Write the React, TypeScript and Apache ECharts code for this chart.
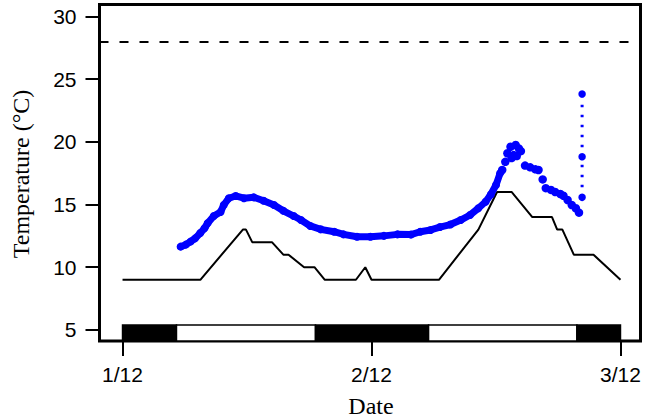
import React, { useEffect, useRef } from "react";
import * as echarts from "echarts";

// x values are hours since 1/12 00:00
const xTickValues = [0, 24, 48];
const xTickLabels = ["1/12", "2/12", "3/12"];
const yTickValues = [5, 10, 15, 20, 25, 30];

const limitValue = 28;

// setpoint (black line): [hour, °C]
const setpoint: [number, number][] = [
  [0, 9], [7.5, 9], [11.6, 13], [11.9, 13], [12.5, 12], [14.4, 12], [15.5, 11], [16.0, 11],
  [17.5, 10], [18.5, 10], [19.5, 9], [22.5, 9], [23.4, 10], [24.0, 9], [30.5, 9], [34.3, 13],
  [36.1, 16], [37.5, 16], [39.5, 14], [41.4, 14], [41.9, 13], [42.4, 13], [43.5, 11],
  [45.4, 11], [48, 9],
];

// measured temperature, smooth part
const measuredSmooth: [number, number][] = [
  [5.6, 11.64], [6.1, 11.8], [6.55, 12.04], [7.0, 12.3], [7.5, 12.73], [7.9, 13.1], [8.2, 13.5],
  [8.8, 14.08], [9.45, 14.4], [9.76, 14.96], [10.25, 15.5], [10.9, 15.68], [11.7, 15.5],
  [12.65, 15.57], [13.6, 15.3], [14.6, 14.96], [15.5, 14.5], [16.5, 14.08], [17.2, 13.76],
  [18.1, 13.29], [19.1, 13.02], [20.4, 12.83], [21.3, 12.62], [22.6, 12.43], [23.9, 12.43],
  [25.2, 12.5], [26.5, 12.62], [27.8, 12.6], [28.7, 12.83], [29.7, 12.97], [30.6, 13.2],
  [31.6, 13.4], [32.6, 13.76], [33.5, 14.16], [34.3, 14.7], [35.0, 15.22], [35.5, 15.8],
  [36.0, 16.55], [36.4, 17.5],
];

// measured temperature, peak and decline (separate dots)
const measuredPeak: [number, number][] = [
  [36.6, 17.75], [36.9, 18.4], [37.1, 19.08], [37.4, 19.6], [37.9, 19.74], [38.2, 19.47],
  [38.4, 19.25], [37.7, 18.94], [37.5, 18.7], [38.0, 18.86], [38.8, 18.1], [39.3, 17.96],
  [39.8, 17.8], [40.1, 17.75], [40.5, 17.0], [40.8, 16.3], [41.3, 16.16], [41.7, 16.0],
  [42.2, 15.84], [42.5, 15.7], [42.9, 15.36], [43.3, 14.96], [43.7, 14.7], [44.0, 14.35],
];

// final readings joined by a dotted line
const measuredEnd: [number, number][] = [[44.3, 15.57], [44.3, 18.8], [44.3, 23.8]];

// day/night bar: [start hour, end hour, dark(1)/light(0)]
const dayNight: [number, number, number][] = [
  [0, 5.2, 1], [5.2, 18.6, 0], [18.6, 29.5, 1], [29.5, 43.8, 0], [43.8, 48, 1],
];

const X_MIN = -2.22;
const X_MAX = 49.93;
const Y_MIN = 4.12;
const Y_MAX = 30.94;
const BAR_TOP = 5.4;

const BLUE = "#0000ff";

export default function App() {
  const ref = useRef<HTMLDivElement>(null);
  useEffect(() => {
    if (!ref.current) return;
    const chart = echarts.init(ref.current, null, { renderer: "svg" });
    const sans = "Liberation Sans, Arial, sans-serif";
    const serif = "Liberation Serif, Times New Roman, serif";
    chart.setOption({
      animation: false,
      backgroundColor: "#ffffff",
      grid: {
        left: 99.5,
        right: 5.5,
        top: 4.5,
        bottom: 78,
        show: true,
        borderColor: "#000",
        borderWidth: 3,
        backgroundColor: "transparent",
      },
      xAxis: {
        type: "value",
        min: X_MIN,
        max: X_MAX,
        axisLine: { show: false, onZero: false },
        splitLine: { show: false },
        axisTick: {
          show: true,
          length: 15,
          lineStyle: { color: "#000", width: 2 },
          customValues: xTickValues,
        },
        axisLabel: {
          customValues: xTickValues,
          formatter: (v: number) => {
            const i = xTickValues.indexOf(v);
            return i >= 0 ? xTickLabels[i] : "";
          },
          color: "#000",
          fontSize: 21,
          fontFamily: sans,
          margin: 23,
        },
      },
      yAxis: {
        type: "value",
        min: Y_MIN,
        max: Y_MAX,
        axisLine: { show: false, onZero: false },
        splitLine: { show: false },
        axisTick: {
          show: true,
          length: 14,
          lineStyle: { color: "#000", width: 2 },
          customValues: yTickValues,
        },
        axisLabel: {
          customValues: yTickValues,
          color: "#000",
          fontSize: 21,
          fontFamily: sans,
          margin: 23,
        },
      },
      graphic: [
        {
          type: "text",
          x: 371,
          y: 406,
          style: {
            text: "Date",
            font: `24px ${serif}`,
            fill: "#000",
            align: "center",
            verticalAlign: "middle",
          },
        },
        {
          type: "text",
          x: 21,
          y: 174,
          rotation: Math.PI / 2,
          style: {
            text: "Temperature (°C)",
            font: `24px ${serif}`,
            fill: "#000",
            align: "center",
            verticalAlign: "middle",
          },
        },
      ],
      series: [
        {
          type: "custom",
          data: dayNight,
          encode: { x: [0, 1] },
          z: 1,
          renderItem: (params: any, api: any) => {
            const p0 = api.coord([api.value(0), BAR_TOP]);
            const p1 = api.coord([api.value(1), Y_MIN]);
            const dark = api.value(2) === 1;
            return {
              type: "rect",
              shape: { x: p0[0], y: p0[1], width: p1[0] - p0[0], height: p1[1] - p0[1] },
              style: { fill: dark ? "#000" : "#fff", stroke: "#000", lineWidth: 1.5 },
            };
          },
        },
        {
          type: "line",
          data: setpoint,
          showSymbol: false,
          symbol: "none",
          lineStyle: { color: "#000", width: 2 },
          z: 2,
          markLine: {
            silent: true,
            symbol: "none",
            label: { show: false },
            lineStyle: { color: "#000", width: 2, type: [9, 11] },
            data: [{ yAxis: limitValue }],
          },
        },
        {
          type: "line",
          data: measuredSmooth,
          symbol: "circle",
          symbolSize: 8,
          showSymbol: true,
          itemStyle: { color: BLUE },
          lineStyle: { color: BLUE, width: 7, cap: "round", join: "round" },
          z: 3,
        },
        {
          type: "scatter",
          data: measuredPeak,
          symbol: "circle",
          symbolSize: 8.5,
          itemStyle: { color: BLUE, opacity: 1 },
          z: 3,
        },
        {
          type: "line",
          data: measuredEnd,
          symbol: "circle",
          symbolSize: 7.5,
          showSymbol: true,
          itemStyle: { color: BLUE },
          lineStyle: { color: BLUE, width: 3, type: [2.5, 7.5] },
          z: 3,
        },
      ],
    });
    return () => chart.dispose();
  }, []);
  return (
    <div
      ref={ref}
      style={{ position: "fixed", left: 0, top: 0, width: 646, height: 419, background: "#fff" }}
    />
  );
}
